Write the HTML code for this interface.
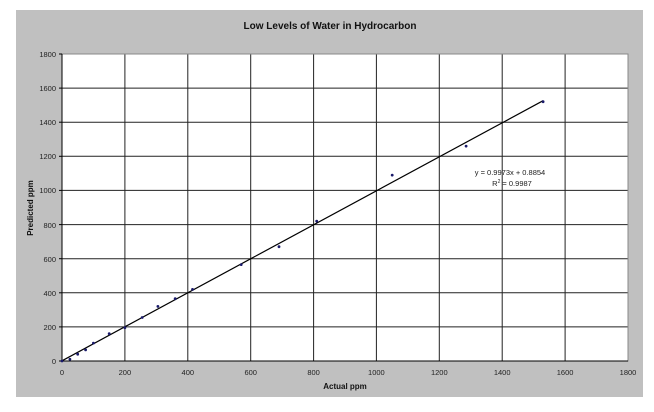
<!DOCTYPE html>
<html><head><style>body{margin:0;background:#fff}svg{display:block}text{font-family:"Liberation Sans",sans-serif}</style></head><body>
<svg width="654" height="412" viewBox="0 0 654 412" xmlns="http://www.w3.org/2000/svg">
<rect x="16" y="10" width="627" height="387" fill="#c0c0c0"/>
<rect x="62" y="54" width="566" height="307" fill="#fff"/>
<text x="330" y="29" font-size="10" font-weight="bold" text-anchor="middle" fill="#111">Low Levels of Water in Hydrocarbon</text>
<g stroke="#222" stroke-width="1">
<line x1="62" y1="326.9" x2="628" y2="326.9"/><line x1="62" y1="292.8" x2="628" y2="292.8"/><line x1="62" y1="258.7" x2="628" y2="258.7"/><line x1="62" y1="224.6" x2="628" y2="224.6"/><line x1="62" y1="190.4" x2="628" y2="190.4"/><line x1="62" y1="156.3" x2="628" y2="156.3"/><line x1="62" y1="122.2" x2="628" y2="122.2"/><line x1="62" y1="88.1" x2="628" y2="88.1"/><line x1="62" y1="54" x2="628" y2="54"/>
<line x1="124.9" y1="54" x2="124.9" y2="361"/><line x1="187.8" y1="54" x2="187.8" y2="361"/><line x1="250.7" y1="54" x2="250.7" y2="361"/><line x1="313.6" y1="54" x2="313.6" y2="361"/><line x1="376.4" y1="54" x2="376.4" y2="361"/><line x1="439.3" y1="54" x2="439.3" y2="361"/><line x1="502.2" y1="54" x2="502.2" y2="361"/><line x1="565.1" y1="54" x2="565.1" y2="361"/>
</g>
<rect x="62" y="54" width="566" height="307" fill="none" stroke="#888"/>
<line x1="62" y1="54" x2="62" y2="361" stroke="#000"/><line x1="62" y1="361" x2="628" y2="361" stroke="#000"/>
<g stroke="#000"><line x1="59" y1="54" x2="62" y2="54"/><line x1="59" y1="88.1" x2="62" y2="88.1"/><line x1="59" y1="122.2" x2="62" y2="122.2"/><line x1="59" y1="156.3" x2="62" y2="156.3"/><line x1="59" y1="190.4" x2="62" y2="190.4"/><line x1="59" y1="224.6" x2="62" y2="224.6"/><line x1="59" y1="258.7" x2="62" y2="258.7"/><line x1="59" y1="292.8" x2="62" y2="292.8"/><line x1="59" y1="326.9" x2="62" y2="326.9"/><line x1="59" y1="361" x2="62" y2="361"/></g>
<g font-size="7.5" fill="#222" text-anchor="end">
<text x="56" y="57">1800</text><text x="56" y="91">1600</text><text x="56" y="125">1400</text><text x="56" y="159">1200</text><text x="56" y="193">1000</text><text x="56" y="228">800</text><text x="56" y="262">600</text><text x="56" y="296">400</text><text x="56" y="330">200</text><text x="56" y="364">0</text></g>
<g font-size="7.5" fill="#222" text-anchor="middle">
<text x="62" y="375">0</text><text x="124.9" y="375">200</text><text x="187.8" y="375">400</text><text x="250.7" y="375">600</text><text x="313.6" y="375">800</text><text x="376.4" y="375">1000</text><text x="439.3" y="375">1200</text><text x="502.2" y="375">1400</text><text x="565.1" y="375">1600</text><text x="628" y="375">1800</text></g>
<text x="345" y="389" font-size="8" font-weight="bold" text-anchor="middle" fill="#111">Actual  ppm</text>
<text transform="translate(33,208) rotate(-90)" font-size="8" font-weight="bold" text-anchor="middle" fill="#111">Predicted  ppm</text>
<line x1="62" y1="360.8" x2="543.1" y2="100.7" stroke="#000" stroke-width="1.2"/>
<g fill="#1a1a6a">
<circle cx="62" cy="361" r="1.4"/><circle cx="69.9" cy="359.3" r="1.4"/><circle cx="77.7" cy="354.2" r="1.4"/><circle cx="85.6" cy="349.9" r="1.4"/><circle cx="93.4" cy="343.1" r="1.4"/><circle cx="109.2" cy="333.7" r="1.4"/><circle cx="124.9" cy="327.7" r="1.4"/><circle cx="142.2" cy="317.5" r="1.4"/><circle cx="157.9" cy="306.4" r="1.4"/><circle cx="175.2" cy="298.7" r="1.4"/><circle cx="192.5" cy="289.4" r="1.4"/><circle cx="241.2" cy="264.6" r="1.4"/><circle cx="279" cy="246.7" r="1.4"/><circle cx="316.7" cy="221.1" r="1.4"/><circle cx="392.2" cy="175.1" r="1.4"/><circle cx="466.1" cy="146.1" r="1.4"/><circle cx="543.1" cy="101.7" r="1.4"/></g>
<text x="510" y="175" font-size="7.5" fill="#222" text-anchor="middle">y = 0.9973x + 0.8854</text>
<text x="512" y="186" font-size="7.5" fill="#222" text-anchor="middle">R<tspan font-size="5" dy="-3">2</tspan><tspan dy="3"> = 0.9987</tspan></text>
</svg>
</body></html>
